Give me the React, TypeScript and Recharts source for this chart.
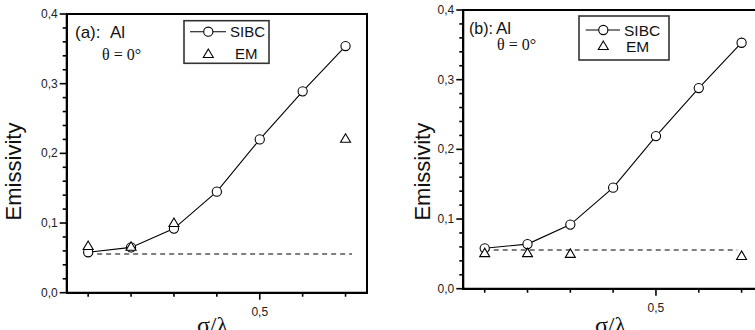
import React from 'react';
import { ComposedChart, Line, Scatter, XAxis, YAxis, ReferenceLine } from 'recharts';

// sigma / lambda positions
const sigmaOverLambda = [0.1, 0.2, 0.3, 0.4, 0.5, 0.6, 0.7];

// panel (a)
const sibcA = [0.058, 0.065, 0.092, 0.145, 0.22, 0.289, 0.354];
const emXA = [0.1, 0.2, 0.3, 0.7];
const emA = [0.067, 0.066, 0.1, 0.221];

// panel (b)
const sibcB = [0.058, 0.064, 0.092, 0.145, 0.219, 0.288, 0.353];
const emXB = [0.1, 0.2, 0.3, 0.7];
const emB = [0.051, 0.051, 0.05, 0.047];

const flatLevel = 0.0555;

const xTicks = [0.1, 0.2, 0.3, 0.4, 0.5, 0.6, 0.7];
const xMajor = [0.5];
const xLabels = ['0,5'];
const yTicks = [0, 0.02, 0.04, 0.06, 0.08, 0.1, 0.12, 0.14, 0.16, 0.18, 0.2, 0.22, 0.24, 0.26, 0.28, 0.3, 0.32, 0.34, 0.36, 0.38, 0.4];
const yMajor = [0, 0.1, 0.2, 0.3, 0.4];
const yLabels = ['0,0', '0,1', '0,2', '0,3', '0,4'];

const sans = 'Liberation Sans, Arial, sans-serif';
const serif = 'Liberation Serif, Times New Roman, serif';

const rows = (xs: number[], ys: number[]) => xs.map((x, i) => ({ x, y: ys[i] }));

const YTick = (props: any) => {
  const { x, y, payload } = props;
  const i = yMajor.findIndex((v) => Math.abs(v - payload.value) < 1e-6);
  const major = i >= 0;
  return (
    <g>
      <line x1={x} x2={x - (major ? 7 : 4)} y1={y} y2={y} stroke="#000" strokeWidth={1.6} />
      {major && (
        <text x={x - 9} y={y} dy={4} textAnchor="end" fontSize={12} fill="#222" fontFamily={sans}>
          {yLabels[i]}
        </text>
      )}
    </g>
  );
};

const XTick = (props: any) => {
  const { x, y, payload } = props;
  const i = xMajor.findIndex((v) => Math.abs(v - payload.value) < 1e-6);
  const major = i >= 0;
  return (
    <g>
      <line x1={x} x2={x} y1={y} y2={y + (major ? 7 : 4)} stroke="#000" strokeWidth={1.6} />
      {major && (
        <text x={x} y={y + 23} textAnchor="middle" fontSize={12} fill="#222" fontFamily={sans}>
          {xLabels[i]}
        </text>
      )}
    </g>
  );
};

const Triangle = (props: any) => {
  const { cx, cy } = props;
  if (cx == null || cy == null) return null;
  return (
    <polygon
      points={`${cx},${cy - 5} ${cx - 5},${cy + 3.5} ${cx + 5},${cy + 3.5}`}
      fill="#fff"
      stroke="#000"
      strokeWidth={1.1}
    />
  );
};

type PanelProps = {
  left: number;
  width: number;
  top: number;
  right: number;
  yAxisWidth: number;
  xAxisHeight: number;
  sibc: number[];
  emX: number[];
  em: number[];
  flatEnd: number;
};

const frame = { stroke: '#000', strokeWidth: 2 };

const Panel = ({ left, width, top, right, yAxisWidth, xAxisHeight, sibc, emX, em, flatEnd }: PanelProps) => (
  <div style={{ position: 'absolute', left, top: 0 }}>
    <ComposedChart width={width} height={330} margin={{ top, right, bottom: 0, left: 0 }}>
      <XAxis
        type="number"
        dataKey="x"
        domain={[0.05, 0.75]}
        ticks={xTicks}
        interval={0}
        tick={<XTick />}
        tickLine={false}
        tickSize={0}
        tickMargin={0}
        height={xAxisHeight}
        axisLine={frame}
        allowDataOverflow
      />
      <YAxis
        type="number"
        dataKey="y"
        domain={[0, 0.4]}
        ticks={yTicks}
        interval={0}
        tick={<YTick />}
        tickLine={false}
        tickSize={0}
        tickMargin={0}
        width={yAxisWidth}
        axisLine={frame}
        allowDataOverflow
      />
      <ReferenceLine
        segment={[
          { x: 0.1, y: flatLevel },
          { x: flatEnd, y: flatLevel },
        ]}
        stroke="#000"
        strokeWidth={1.1}
        strokeDasharray="5 4"
      />
      <Line
        data={rows(sigmaOverLambda, sibc)}
        dataKey="y"
        type="linear"
        stroke="#000"
        strokeWidth={1.1}
        dot={{ r: 4.6, fill: '#fff', stroke: '#000', strokeWidth: 1.1 }}
        activeDot={false}
        isAnimationActive={false}
      />
      <Scatter data={rows(emX, em)} dataKey="y" shape={<Triangle />} isAnimationActive={false} />
    </ComposedChart>
  </div>
);

const LegendBox = ({ x, y, w, h, fs, lineX1, lineX2, symX, row1, row2, textX1, textX2 }: any) => (
  <g>
    <rect x={x} y={y} width={w} height={h} fill="#fff" stroke="#333" strokeWidth={1.6} />
    <line x1={lineX1} x2={lineX2} y1={row1} y2={row1} stroke="#000" strokeWidth={1.1} />
    <circle cx={symX} cy={row1} r={4.6} fill="#fff" stroke="#000" strokeWidth={1.1} />
    <text x={textX1} y={row1 + fs * 0.36} fontSize={fs} fontFamily={sans} fill="#111">SIBC</text>
    <Triangle cx={symX} cy={row2} />
    <text x={textX2} y={row2 + fs * 0.36} fontSize={fs} fontFamily={sans} fill="#111">EM</text>
  </g>
);

const Overlay = () => (
  <svg width={755} height={330} style={{ position: 'absolute', left: 0, top: 0, pointerEvents: 'none' }}>
    {/* plot frames */}
    <rect x={67} y={14} width={300} height={279} fill="none" stroke="#000" strokeWidth={2} shapeRendering="crispEdges" />
    <rect x={463} y={10} width={300} height={279} fill="none" stroke="#000" strokeWidth={2} shapeRendering="crispEdges" />

    {/* panel (a) */}
    <text x={75} y={38} fontSize={17} fontFamily={sans} fill="#111">(a):</text>
    <text x={110} y={38} fontSize={17} fontFamily={sans} fill="#111">Al</text>
    <text x={102} y={60} fontSize={16} fontFamily={serif} fill="#111">θ = 0°</text>
    <text x={21} y={171.5} fontSize={22} fontFamily={sans} fill="#111" textAnchor="middle" transform="rotate(-90 21 171.5)">
      Emissivity
    </text>
    <text x={212.5} y={333} fontSize={24} fontFamily={serif} fill="#111" textAnchor="middle">σ/λ</text>
    <LegendBox x={184} y={20.7} w={85} h={42.6} fs={15} lineX1={190} lineX2={226} symX={208.3} row1={31.7} row2={54} textX1={230} textX2={235} />

    {/* panel (b) */}
    <text x={469} y={34} fontSize={16} fontFamily={sans} fill="#111">(b):</text>
    <text x={496} y={34} fontSize={17} fontFamily={sans} fill="#111">Al</text>
    <text x={497} y={50} fontSize={16} fontFamily={serif} fill="#111">θ = 0°</text>
    <text x={430} y={171.7} fontSize={22} fontFamily={sans} fill="#111" textAnchor="middle" transform="rotate(-90 430 171.7)">
      Emissivity
    </text>
    <text x={610.5} y={333} fontSize={24} fontFamily={serif} fill="#111" textAnchor="middle">σ/λ</text>
    <LegendBox x={579} y={16} w={90} h={44} fs={15.5} lineX1={585.7} lineX2={620} symX={603.3} row1={30} row2={46} textX1={624} textX2={626} />
  </svg>
);

const App = () => (
  <div style={{ position: 'absolute', left: 0, top: 0, width: 755, height: 330, overflow: 'hidden', background: '#fff' }}>
    <Panel left={0} width={380} top={14} right={13} yAxisWidth={66.7} xAxisHeight={37.3} sibc={sibcA} emX={emXA} em={emA} flatEnd={0.715} />
    <Panel left={375} width={392} top={10} right={4} yAxisWidth={88.3} xAxisHeight={41.3} sibc={sibcB} emX={emXB} em={emB} flatEnd={0.69} />
    <Overlay />
  </div>
);

export default App;
